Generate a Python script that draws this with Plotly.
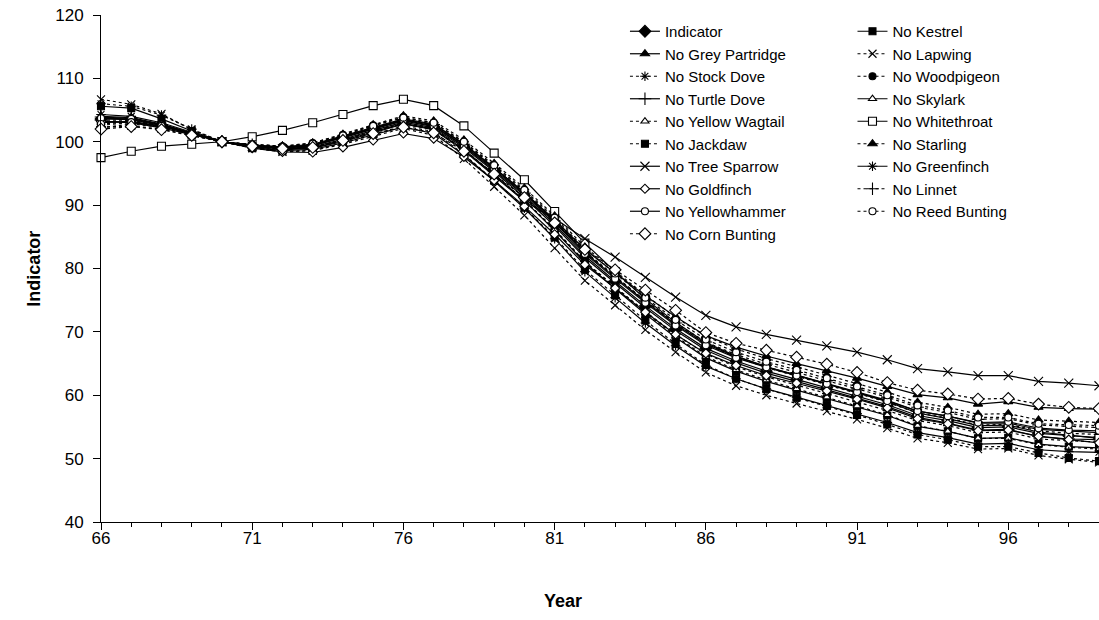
import plotly.graph_objects as go

years = [66, 67, 68, 69, 70, 71, 72, 73, 74, 75, 76, 77, 78, 79, 80, 81, 82,
         83, 84, 85, 86, 87, 88, 89, 90, 91, 92, 93, 94, 95, 96, 97, 98, 99]

indicator = [103.6, 103.5, 102.6, 101.3, 100.0, 99.4, 99.0, 99.4, 100.6, 102.0, 103.3, 102.4, 99.3, 95.5, 91.5, 87.0, 82.0,
             78.0, 74.1, 70.5, 67.4, 65.4, 63.8, 62.5, 61.2, 59.9, 58.5, 56.8, 56.0, 54.9, 55.0, 54.0, 53.6, 53.3]
no_kestrel = [105.6, 105.3, 103.6, 101.7, 100.0, 99.2, 98.7, 99.0, 100.2, 101.6, 102.9, 102.0, 98.8, 94.8, 90.7, 86.0, 80.9,
              76.8, 72.8, 69.1, 65.9, 63.8, 62.2, 60.8, 59.5, 58.2, 56.8, 55.1, 54.3, 53.2, 53.3, 52.3, 51.9, 51.7]
no_grey_partridge = [104.0, 103.8, 102.8, 101.4, 100.0, 99.5, 99.1, 99.5, 100.8, 102.2, 103.5, 102.7, 99.6, 95.9, 92.0, 87.7, 83.0,
                     79.3, 75.7, 72.4, 69.4, 67.6, 66.2, 65.0, 63.9, 62.7, 61.4, 60.1, 59.6, 58.6, 59.0, 58.1, 57.9, 57.8]
no_lapwing = [106.7, 105.9, 104.4, 101.9, 100.0, 99.0, 98.4, 98.6, 99.6, 100.9, 102.1, 101.0, 97.3, 92.9, 88.4, 83.2, 78.1,
              74.2, 70.3, 66.8, 63.6, 61.5, 60.0, 58.7, 57.5, 56.2, 54.8, 53.2, 52.5, 51.5, 51.6, 50.5, 49.9, 49.4]
no_stock_dove = [106.0, 105.6, 104.2, 102.0, 100.0, 99.3, 98.9, 99.2, 100.3, 101.7, 103.0, 102.1, 98.8, 94.9, 90.8, 86.2, 81.1,
                 77.1, 73.2, 69.6, 66.5, 64.5, 62.9, 61.6, 60.3, 59.0, 57.6, 56.0, 55.2, 54.1, 54.2, 53.1, 52.8, 52.6]
no_woodpigeon = [102.2, 102.8, 102.3, 101.2, 100.0, 99.6, 99.3, 99.8, 101.1, 102.6, 103.9, 103.0, 99.9, 96.1, 92.2, 87.7, 82.7,
                 78.8, 74.9, 71.3, 68.1, 66.0, 64.4, 63.0, 61.7, 60.3, 58.9, 57.2, 56.4, 55.3, 55.4, 54.4, 54.0, 53.8]
no_turtle_dove = [103.9, 103.7, 102.7, 101.3, 100.0, 99.3, 98.9, 99.2, 100.4, 101.8, 103.1, 102.2, 99.1, 95.3, 91.2, 86.7, 81.7,
                  77.7, 73.8, 70.2, 67.1, 65.1, 63.5, 62.2, 60.9, 59.6, 58.2, 56.5, 55.6, 54.5, 54.6, 53.5, 53.1, 53.0]
no_skylark = [103.2, 103.1, 102.4, 101.2, 100.0, 99.5, 99.2, 99.6, 100.9, 102.3, 103.6, 102.8, 99.7, 95.9, 91.9, 87.5, 82.5,
              78.6, 74.8, 71.2, 68.1, 66.1, 64.5, 63.2, 61.9, 60.6, 59.2, 57.5, 56.7, 55.6, 55.6, 54.6, 54.3, 54.1]
no_yellow_wagtail = [103.0, 103.2, 102.5, 101.3, 100.0, 99.3, 98.8, 99.1, 100.2, 101.6, 102.8, 101.9, 98.7, 94.8, 90.7, 86.1, 81.0,
                     77.0, 73.0, 69.3, 66.1, 64.0, 62.4, 61.0, 59.7, 58.3, 56.9, 55.2, 54.3, 53.2, 53.2, 52.2, 51.8, 51.5]
no_whitethroat = [97.5, 98.5, 99.3, 99.6, 100.0, 100.8, 101.8, 103.0, 104.3, 105.7, 106.7, 105.7, 102.5, 98.2, 94.0, 89.0, 84.0,
                  79.5, 75.2, 71.5, 68.3, 66.2, 64.5, 63.2, 61.8, 60.5, 59.0, 57.2, 56.3, 55.2, 55.3, 54.2, 53.7, 53.2]
no_jackdaw = [102.3, 102.5, 102.0, 101.0, 100.0, 99.0, 98.5, 98.6, 99.8, 101.2, 102.5, 101.6, 98.0, 93.9, 89.6, 84.9, 79.8,
              75.8, 71.8, 68.1, 64.8, 62.6, 61.0, 59.6, 58.3, 56.9, 55.4, 53.8, 53.0, 51.9, 51.9, 50.9, 50.1, 49.6]
no_starling = [102.6, 103.0, 102.4, 101.2, 100.0, 99.6, 99.3, 99.8, 101.2, 102.7, 104.1, 103.3, 100.3, 96.6, 92.7, 88.3, 83.4,
               79.6, 75.8, 72.3, 69.3, 67.3, 65.8, 64.5, 63.2, 61.9, 60.5, 58.9, 58.1, 57.0, 57.1, 56.1, 55.9, 55.7]
no_tree_sparrow = [103.0, 103.2, 102.5, 101.3, 100.0, 99.3, 98.9, 99.0, 100.0, 101.4, 102.8, 101.9, 98.6, 94.6, 90.6, 87.9, 84.7,
                   81.8, 78.6, 75.5, 72.6, 70.8, 69.6, 68.7, 67.8, 66.8, 65.6, 64.2, 63.7, 63.1, 63.1, 62.2, 61.9, 61.5]
no_greenfinch = [104.3, 104.0, 103.0, 101.5, 100.0, 99.1, 98.6, 98.8, 99.8, 101.1, 102.3, 101.3, 97.9, 93.8, 89.5, 84.7, 79.5,
                 75.4, 71.4, 67.8, 64.6, 62.6, 61.0, 59.7, 58.4, 57.1, 55.7, 54.1, 53.3, 52.3, 52.4, 51.4, 51.1, 51.0]
no_goldfinch = [103.2, 103.0, 102.2, 101.1, 100.0, 99.0, 98.4, 98.3, 99.1, 100.2, 101.3, 100.5, 97.6, 93.9, 89.8, 85.4, 80.6,
                76.9, 73.1, 69.6, 66.6, 64.7, 63.1, 61.9, 60.7, 59.4, 58.0, 56.3, 55.5, 54.4, 54.5, 53.5, 53.0, 52.5]
no_linnet = [103.4, 103.4, 102.6, 101.3, 100.0, 99.5, 99.1, 99.5, 100.8, 102.2, 103.5, 102.7, 99.6, 95.8, 91.9, 87.5, 82.6,
             78.7, 74.9, 71.4, 68.4, 66.4, 64.9, 63.6, 62.3, 61.0, 59.7, 58.1, 57.3, 56.2, 56.3, 55.3, 55.1, 54.9]
no_yellowhammer = [103.7, 103.6, 102.7, 101.3, 100.0, 99.4, 99.0, 99.4, 100.7, 102.1, 103.4, 102.5, 99.4, 95.7, 91.7, 87.3, 82.3,
                   78.4, 74.6, 71.0, 67.9, 65.9, 64.4, 63.1, 61.8, 60.5, 59.1, 57.5, 56.7, 55.7, 55.8, 54.8, 54.5, 54.4]
no_reed_bunting = [102.8, 103.1, 102.5, 101.2, 100.0, 99.5, 99.2, 99.7, 101.0, 102.5, 103.8, 103.0, 100.0, 96.3, 92.4, 88.0, 83.1,
                   79.2, 75.4, 71.9, 68.8, 66.8, 65.3, 64.0, 62.7, 61.4, 60.0, 58.4, 57.6, 56.5, 56.5, 55.5, 55.3, 55.2]
no_corn_bunting = [102.0, 102.4, 101.9, 101.0, 100.0, 99.3, 98.9, 99.1, 100.2, 101.3, 102.3, 101.4, 98.5, 94.9, 91.2, 87.2, 83.0,
                   79.8, 76.6, 73.4, 69.9, 68.2, 67.1, 66.0, 64.9, 63.6, 62.0, 60.8, 60.2, 59.4, 59.5, 58.6, 58.1, 57.9]

x_tick_vals = [66, 71, 76, 81, 86, 91, 96]
y_tick_vals = [40, 50, 60, 70, 80, 90, 100, 110, 120]

SOLID = "solid"
DOT = "3px,3px"
BLACK = "black"
WHITE = "white"

# name, values, dash, symbol, fill, size, legend column
series = [
    ("Indicator", indicator, SOLID, "diamond", BLACK, 9, "legend"),
    ("No Kestrel", no_kestrel, SOLID, "square", BLACK, 7, "legend2"),
    ("No Grey Partridge", no_grey_partridge, SOLID, "triangle-up", BLACK, 8, "legend"),
    ("No Lapwing", no_lapwing, DOT, "x-thin", BLACK, 8, "legend2"),
    ("No Stock Dove", no_stock_dove, DOT, "asterisk", BLACK, 8, "legend"),
    ("No Woodpigeon", no_woodpigeon, DOT, "circle", BLACK, 7, "legend2"),
    ("No Turtle Dove", no_turtle_dove, SOLID, "cross-thin", BLACK, 9, "legend"),
    ("No Skylark", no_skylark, SOLID, "triangle-up", WHITE, 7, "legend2"),
    ("No Yellow Wagtail", no_yellow_wagtail, DOT, "triangle-up", WHITE, 7, "legend"),
    ("No Whitethroat", no_whitethroat, SOLID, "square", WHITE, 8, "legend2"),
    ("No Jackdaw", no_jackdaw, DOT, "square", BLACK, 7, "legend"),
    ("No Starling", no_starling, DOT, "triangle-up", BLACK, 8, "legend2"),
    ("No Tree Sparrow", no_tree_sparrow, SOLID, "x-thin", BLACK, 9, "legend"),
    ("No Greenfinch", no_greenfinch, SOLID, "asterisk", BLACK, 8, "legend2"),
    ("No Goldfinch", no_goldfinch, SOLID, "diamond", WHITE, 7, "legend"),
    ("No Linnet", no_linnet, DOT, "cross-thin", BLACK, 9, "legend2"),
    ("No Yellowhammer", no_yellowhammer, SOLID, "circle", WHITE, 7, "legend"),
    ("No Reed Bunting", no_reed_bunting, DOT, "circle", WHITE, 7, "legend2"),
    ("No Corn Bunting", no_corn_bunting, DOT, "diamond", WHITE, 9, "legend"),
]

fig = go.Figure()
for name, vals, dash, sym, fill, size, leg in series:
    fig.add_trace(go.Scatter(
        x=years, y=vals, name=name, mode="lines+markers",
        line=dict(color=BLACK, width=1.2, dash=dash),
        marker=dict(symbol=sym, size=size, color=fill,
                    line=dict(color=BLACK, width=1.1)),
        legend=leg, cliponaxis=False,
    ))

FONT = "Arial, 'Liberation Sans', sans-serif"

fig.update_layout(
    width=1099, height=620, autosize=False,
    margin=dict(l=101, r=0, t=15, b=98),
    paper_bgcolor="white", plot_bgcolor="white",
    font=dict(family=FONT, color=BLACK, size=17),
    showlegend=True,
    legend=dict(x=0.525, y=1.0, xanchor="left", yanchor="top",
                font=dict(size=15, family=FONT, color=BLACK),
                bgcolor="rgba(0,0,0,0)", borderwidth=0, tracegroupgap=0),
    legend2=dict(x=0.753, y=1.0, xanchor="left", yanchor="top",
                 font=dict(size=15, family=FONT, color=BLACK),
                 bgcolor="rgba(0,0,0,0)", borderwidth=0, tracegroupgap=0),
    annotations=[
        dict(text="<b>Indicator</b>", x=-0.068, y=0.50, xref="paper", yref="paper",
             xanchor="center", yanchor="middle", textangle=-90, showarrow=False,
             font=dict(size=18, family=FONT, color=BLACK)),
        dict(text="<b>Year</b>", x=0.463, y=-0.156, xref="paper", yref="paper",
             xanchor="center", yanchor="middle", showarrow=False,
             font=dict(size=18, family=FONT, color=BLACK)),
    ],
)

fig.update_xaxes(
    range=[66, 99], tickmode="array", tickvals=x_tick_vals,
    ticktext=[str(v) for v in x_tick_vals],
    ticks="outside", ticklen=7, tickwidth=1, tickcolor=BLACK,
    showline=True, linecolor=BLACK, linewidth=1,
    showgrid=False, zeroline=False, ticklabelstandoff=-6,
    minor=dict(tick0=66, dtick=1, ticks="outside", ticklen=4, tickwidth=1,
               tickcolor=BLACK, showgrid=False),
    tickfont=dict(size=17, family=FONT, color=BLACK),
)
fig.update_yaxes(
    range=[40, 120], tickmode="array", tickvals=y_tick_vals,
    ticktext=[str(v) for v in y_tick_vals],
    ticks="outside", ticklen=7, tickwidth=1, tickcolor=BLACK,
    showline=True, linecolor=BLACK, linewidth=1,
    showgrid=False, zeroline=False, ticklabelstandoff=6,
    tickfont=dict(size=17, family=FONT, color=BLACK),
)

fig.write_html("out.html")
